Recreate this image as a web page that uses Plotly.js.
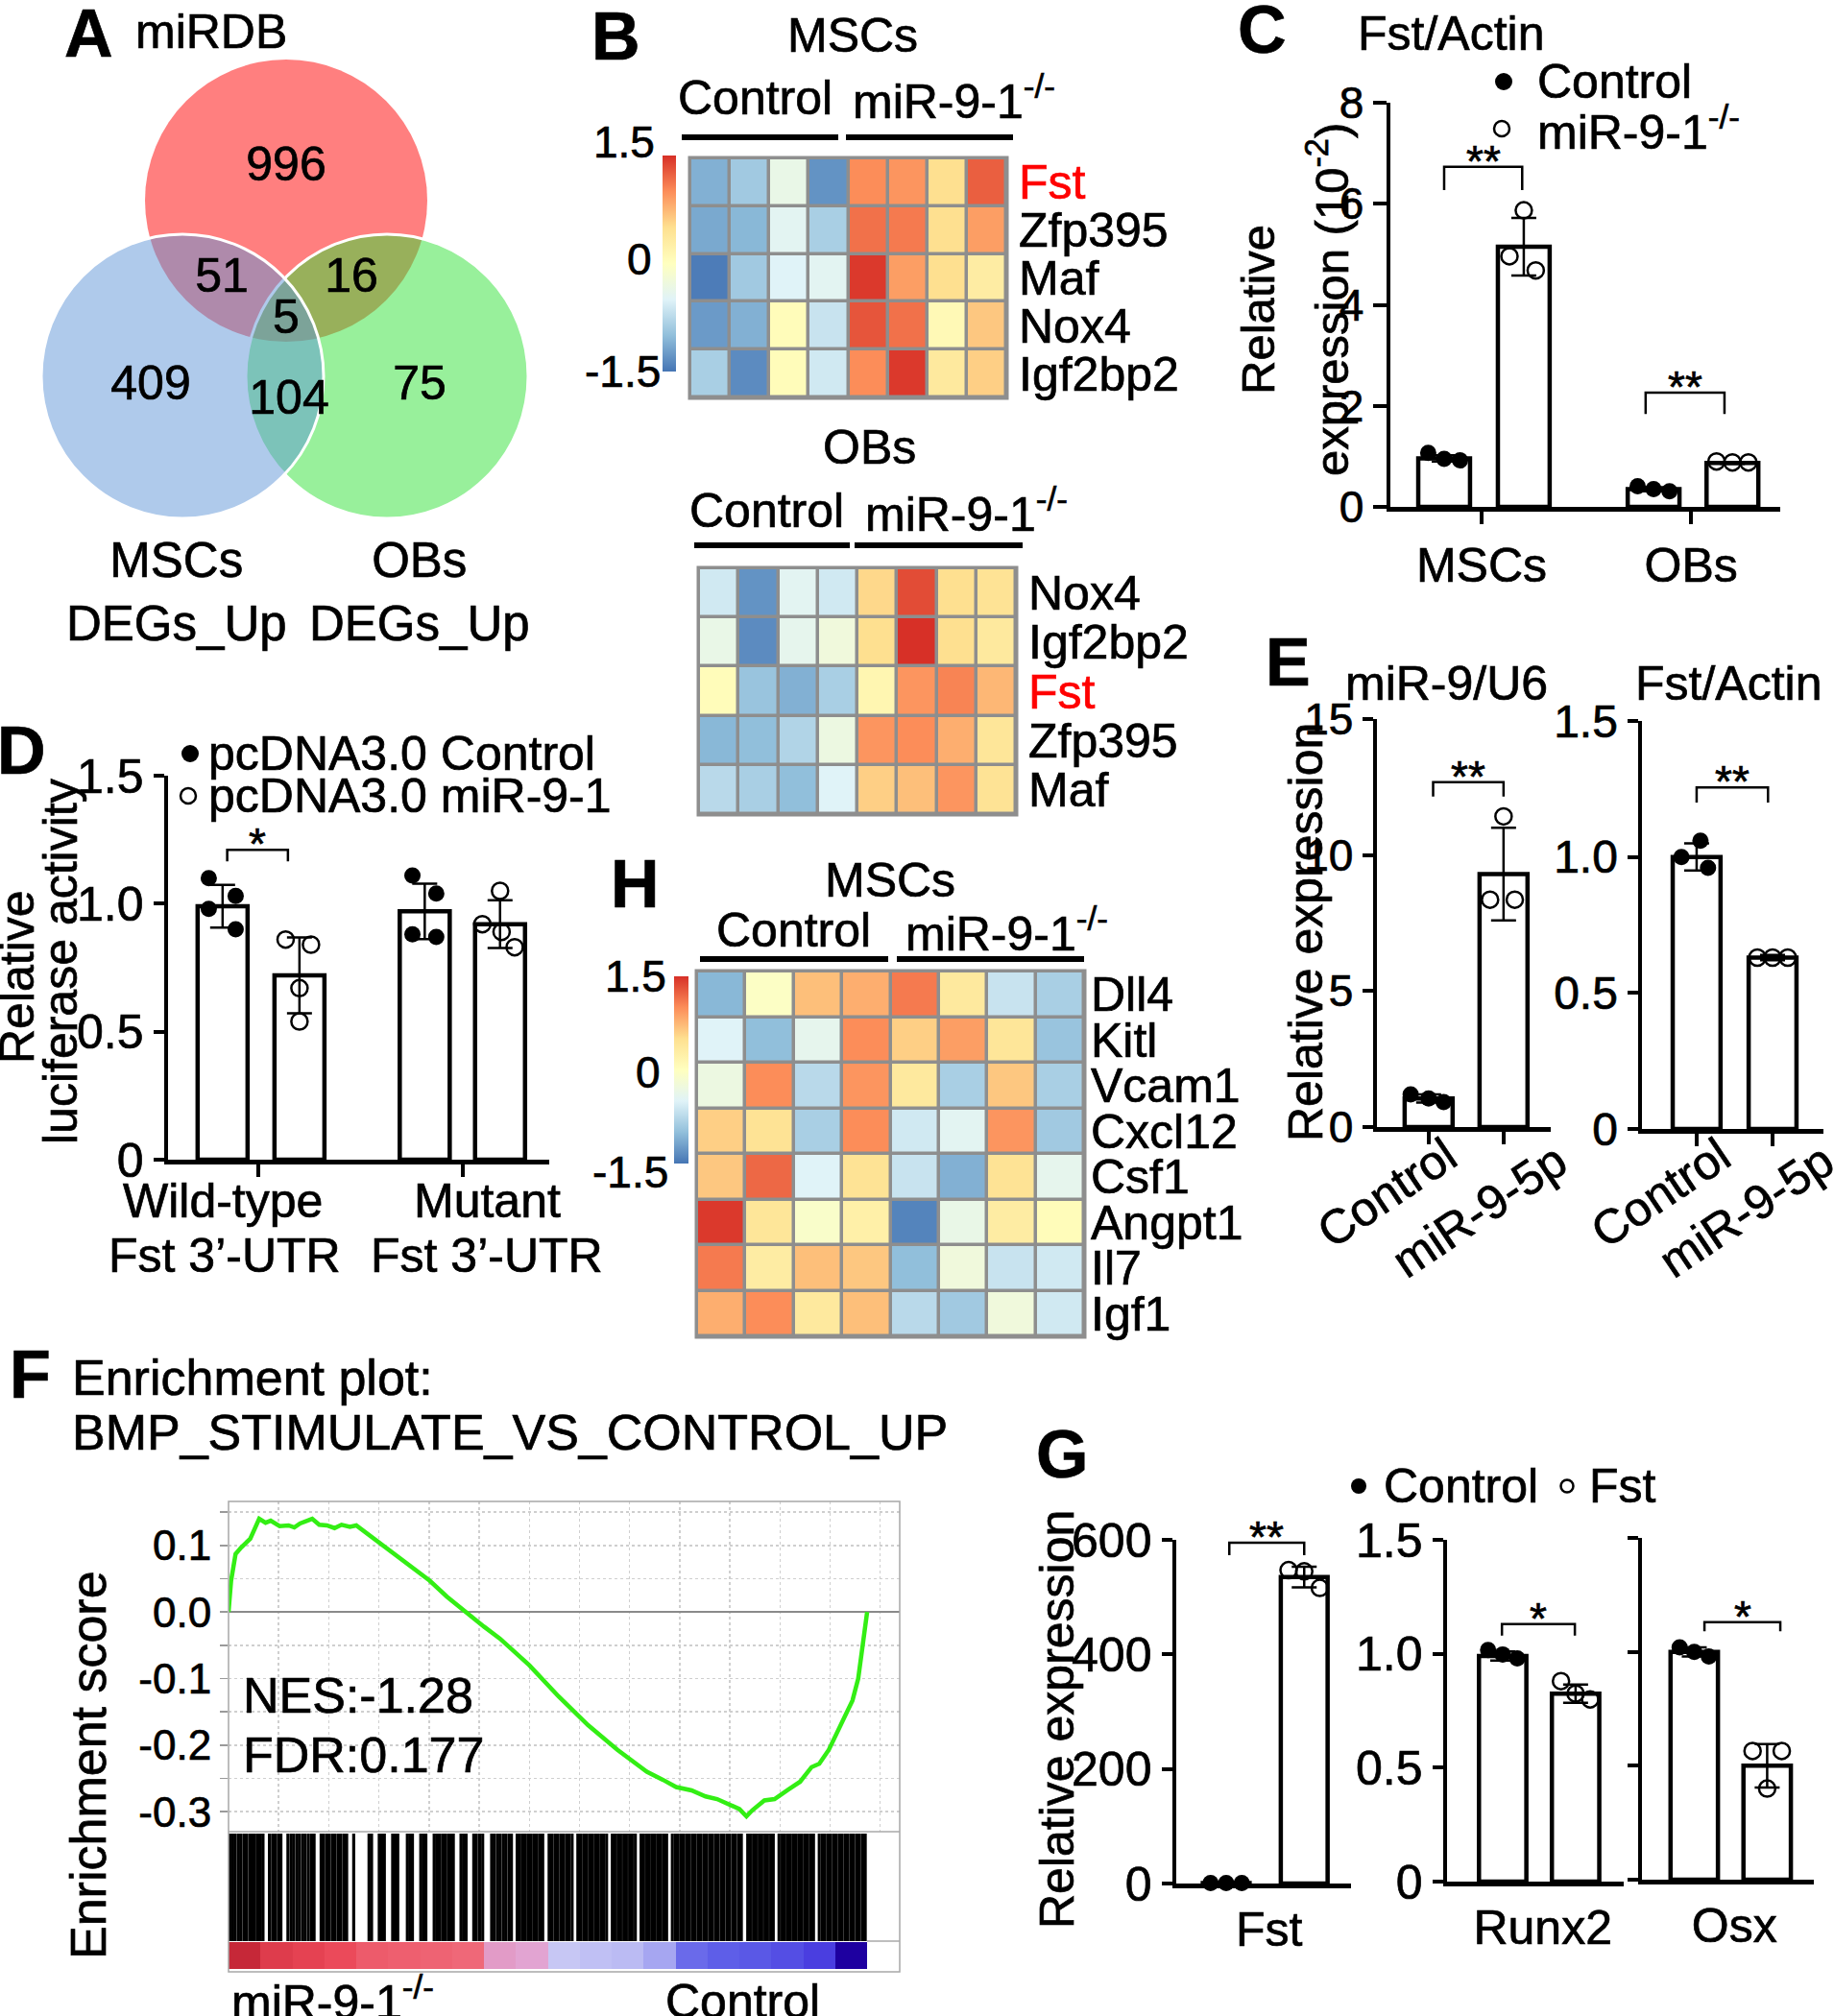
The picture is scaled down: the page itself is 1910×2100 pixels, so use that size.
<!DOCTYPE html>
<html>
<head>
<meta charset="utf-8">
<script src="https://cdn.plot.ly/plotly-3.0.1.min.js"></script>
<style>
  body { margin: 0; background: #fff; }
  #fig { width: 1910px; height: 2100px; }
  /* the source figure's lettering is a touch heavier than plain Liberation Sans */
  #fig .main-svg text { stroke: #000; stroke-width: 0.7px; }
  #fig .main-svg tspan[style*="ff0000"], #fig .main-svg tspan[style*="255, 0, 0"] { stroke: #ff0000; }
</style>
</head>
<body>
<div id="fig"></div>
<script>
// ---------- data ----------
// A: Venn counts (miRDB only, MSC+miRDB, OB+miRDB, all three, MSC only, MSC+OB, OB only)
var vennCounts = [996, 51, 16, 5, 409, 104, 75];

// B / H heatmaps (row z-scores, 4 control + 4 miR-9-1 KO columns)
var heatCols = [0, 1, 2, 3, 4, 5, 6, 7];
var mscGenes = ["Fst", "Zfp395", "Maf", "Nox4", "Igf2bp2"];
var mscZ = [
  [-1.1, -0.9, -0.35, -1.3, 1.0, 0.95, 0.5, 1.25],
  [-1.15, -1.05, -0.45, -0.85, 1.15, 1.1, 0.5, 0.9],
  [-1.45, -0.9, -0.5, -0.45, 1.45, 0.9, 0.5, 0.3],
  [-1.25, -1.1, 0.05, -0.65, 1.3, 1.15, 0.1, 0.65],
  [-0.85, -1.35, 0.05, -0.6, 1.0, 1.45, 0.35, 0.6]
];
var obGenes = ["Nox4", "Igf2bp2", "Fst", "Zfp395", "Maf"];
var obZ = [
  [-0.6, -1.3, -0.45, -0.6, 0.55, 1.35, 0.5, 0.45],
  [-0.35, -1.35, -0.4, -0.25, 0.5, 1.5, 0.5, 0.35],
  [0.05, -0.95, -1.1, -0.85, 0.15, 0.95, 1.05, 0.75],
  [-1.05, -1.0, -0.8, -0.3, 0.95, 1.0, 0.8, 0.4],
  [-0.75, -0.85, -1.0, -0.5, 0.6, 0.7, 0.95, 0.45]
];
var nicheGenes = ["Dll4", "Kitl", "Vcam1", "Cxcl12", "Csf1", "Angpt1", "Il7", "Igf1"];
var nicheZ = [
  [-1.05, -0.05, 0.7, 0.8, 1.1, 0.35, -0.65, -0.85],
  [-0.5, -1.0, -0.4, 1.0, 0.6, 0.9, 0.4, -0.95],
  [-0.3, 1.0, -0.75, 0.95, 0.35, -0.85, 0.65, -0.85],
  [0.6, 0.45, -0.85, 1.0, -0.6, -0.45, 0.95, -0.9],
  [0.65, 1.2, -0.5, 0.45, -0.65, -1.1, 0.45, -0.4],
  [1.45, 0.4, -0.1, 0.25, -1.4, -0.35, 0.3, 0.05],
  [1.1, 0.3, 0.7, 0.65, -1.0, -0.25, -0.65, -0.6],
  [0.8, 1.0, 0.35, 0.7, -0.75, -0.9, -0.25, -0.6]
];

// C: Fst/Actin (x10^-2)
var cCats = ["MSCs", "OBs"];
var cCtrl = [0.96, 0.35];
var cCtrlSd = [0.06, 0.04];
var cKo = [5.15, 0.87];
var cKoSd = [0.57, 0.02];
var cCtrlDots = [[1.07, 0.95, 0.92], [0.41, 0.35, 0.31]];
var cKoDots = [[5.87, 4.96, 4.68], [0.9, 0.88, 0.88]];

// D: luciferase
var dCtrl = [0.99, 0.97];
var dCtrlSd = [0.083, 0.108];
var dMir = [0.72, 0.92];
var dMirSd = [0.148, 0.093];
var dCtrlDots = [[1.1, 1.03, 0.98, 0.9], [1.11, 1.04, 0.88, 0.87]];
var dMirDots = [[0.86, 0.84, 0.67, 0.54], [1.05, 0.92, 0.89, 0.83]];

// E
var eCats = ["Control", "miR-9-5p"];
var eMir = [1.05, 9.3];
var eMirSd = [0.15, 1.7];
var eMirDots = [[1.2, 1.05, 0.92], [11.42, 8.36, 8.36]];
var eFst = [1.0, 0.63];
var eFstSd = [0.05, 0.01];
var eFstDots = [[1.06, 1.0, 0.96], [0.63, 0.63, 0.63]];

// F: GSEA running enrichment score
var esRank = [0, 0.4, 1.1, 2.0, 3.4, 4.8, 5.8, 6.6, 8.0, 9.4, 10.3, 11.2, 13.1, 14.2, 15.4, 16.6, 17.7, 19.0, 20.0,
  23.2, 26.9, 29.0, 31.5, 34.2, 37.4, 40.0, 42.5, 47.1, 51.7, 56.3, 60.9, 63.0, 65.5, 68.0, 70.1, 72.5, 74.7,
  76.5, 78.4, 80.0, 81.1, 82.0, 83.9, 85.5, 87.6, 89.5, 91.3, 92.5, 94.0, 95.9, 97.7, 98.6, 99.4, 100];
var esScore = [0, 0.047, 0.087, 0.097, 0.11, 0.14, 0.134, 0.137, 0.129, 0.13, 0.127, 0.133, 0.14, 0.131, 0.13, 0.126, 0.131, 0.128, 0.13,
  0.107, 0.08, 0.066, 0.047, 0.023, -0.003, -0.022, -0.04, -0.08, -0.127, -0.17, -0.207, -0.222, -0.24, -0.252, -0.263, -0.268, -0.277,
  -0.281, -0.29, -0.296, -0.307, -0.298, -0.283, -0.281, -0.267, -0.255, -0.233, -0.228, -0.207, -0.167, -0.133, -0.1, -0.047, 0];
var hitRanks = [
  0.2, 0.6, 1.0, 1.5, 1.9, 2.4, 2.8, 3.3, 3.7, 4.1, 4.6, 5.0, 5.4,
  6.4, 6.9, 7.3, 7.8, 8.2,
  9.3, 9.8, 10.2, 10.7, 11.1, 11.6, 12.0, 12.5, 13.0, 13.4,
  14.5, 14.9, 15.4, 15.8, 16.3, 16.7, 17.2, 17.6, 18.1, 18.5,
  19.6,
  22.0, 22.4, 23.6, 24.0, 24.4, 25.7, 26.1, 26.5, 28.0, 28.4, 28.8, 30.1, 30.5, 30.9,
  32.2, 32.6, 33.0, 33.5, 33.9, 34.4, 34.8, 35.2, 36.4, 36.8, 37.2, 38.4, 38.8, 39.3, 39.8,
  41.2, 41.6, 42.1, 42.5, 43.0, 43.4, 43.9, 44.3, 45.2, 45.6, 46.1, 46.5, 47.0, 47.4, 47.9, 48.3, 48.8, 49.2,
  50.2, 50.6, 51.1, 51.5, 52.0, 52.4, 52.9, 53.3, 53.8, 54.7, 55.1, 55.6, 56.0, 56.5, 56.9, 57.4, 57.8, 58.3,
  58.7, 59.2, 60.1, 60.5, 61.0, 61.4, 61.9, 62.3, 62.8, 63.2, 63.7, 64.6, 65.0, 65.5, 65.9, 66.4, 66.8, 67.3,
  67.7, 68.2, 68.6, 69.5, 70.0, 70.4, 70.9, 71.3, 71.8, 72.2, 72.7, 73.1, 73.6, 74.0, 74.5, 74.9, 75.4, 75.8,
  76.3, 76.7, 77.2, 77.6, 78.1, 78.5, 79.0, 79.4, 79.9, 80.3, 81.3, 81.7, 82.2, 82.6, 83.1, 83.5, 84.0, 84.4,
  84.9, 85.3, 86.2, 86.7, 87.1, 87.6, 88.0, 88.5, 88.9, 89.4, 89.8, 90.3, 90.7, 91.2, 91.6, 92.5, 93.0, 93.4,
  93.9, 94.3, 94.8, 95.2, 95.7, 96.1, 96.6, 97.0, 97.5, 97.9, 98.4, 98.8, 99.3, 99.7
];
var rankMetric = [0.95, 0.85, 0.82, 0.78, 0.7, 0.68, 0.66, 0.64, 0.35, 0.3,
  -0.15, -0.18, -0.2, -0.3, -0.55, -0.6, -0.62, -0.65, -0.7, -1.0];

// G
var gFst = [1, 535];
var gFstSd = [0, 18];
var gFstDots = [[1, 1, 1], [547, 545, 516]];
var gRunx2 = [0.99, 0.825];
var gRunx2Sd = [0.02, 0.04];
var gRunx2Dots = [[1.016, 0.997, 0.98], [0.88, 0.825, 0.8]];
var gOsx = [1.0, 0.5];
var gOsxSd = [0.02, 0.095];
var gOsxDots = [[1.02, 1.0, 0.98], [0.565, 0.565, 0.4]];

// ---------- drawing ----------
var FONT = "Liberation Sans, Arial, Helvetica, sans-serif";
var W = 1910, H = 2100;
var traces = [], shapes = [], annos = [];
var layout = {
  width: W, height: H,
  margin: { l: 0, r: 0, t: 0, b: 0, pad: 0 },
  paper_bgcolor: "white",
  plot_bgcolor: "rgba(0,0,0,0)",
  showlegend: false,
  font: { family: FONT, size: 50, color: "black" },
  // a pixel canvas over the whole page for decorations
  xaxis: { domain: [0, 1], range: [0, W], visible: false, fixedrange: true },
  yaxis: { domain: [0, 1], range: [H, 0], visible: false, fixedrange: true }
};

function fx(x) { return x / W; }
function fy(y) { return 1 - y / H; }

function label(x, y, s, o) {
  o = o || {};
  annos.push({
    xref: "paper", yref: "paper", x: fx(x), y: fy(y), text: s, showarrow: false,
    xanchor: o.xa || "center", yanchor: o.ya || "middle", textangle: o.rot || 0,
    font: { size: o.size || 50, color: o.color || "black", family: FONT }
  });
}
function letter(x, y, s) { label(x, y, "<b>" + s + "</b>", { size: 70 }); }
function seg(x0, y0, x1, y1, w, c) {
  shapes.push({ type: "line", xref: "x", yref: "y", x0: x0, y0: y0, x1: x1, y1: y1,
    line: { color: c || "black", width: w || 6 } });
}
function dot(x, y, open, size) {
  traces.push({
    type: "scatter", mode: "markers", x: [x], y: [y], xaxis: "x", yaxis: "y", hoverinfo: "skip",
    marker: open ? { size: size, color: "rgba(0,0,0,0)", line: { color: "black", width: 2.5 } }
                 : { size: size, color: "black" }
  });
}

// ----- A: Venn -----
letter(92, 35, "A");
label(220, 33, "miRDB");
shapes.push({ type: "circle", xref: "x", yref: "y", layer: "below", x0: 298 - 147, x1: 298 + 147, y0: 62, y1: 356,
  fillcolor: "rgba(255,0,0,0.5)", line: { width: 0 } });
shapes.push({ type: "circle", xref: "x", yref: "y", layer: "below", x0: 403 - 147, x1: 403 + 147, y0: 244, y1: 540,
  fillcolor: "rgba(50,225,55,0.5)", line: { color: "white", width: 3 } });
shapes.push({ type: "circle", xref: "x", yref: "y", layer: "below", x0: 190 - 147, x1: 190 + 147, y0: 244, y1: 540,
  fillcolor: "rgba(95,150,215,0.5)", line: { color: "white", width: 3 } });
var vennX = [298, 231, 366, 298, 157, 301, 437];
var vennY = [175, 291, 291, 334, 403, 418, 403];
traces.push({ type: "scatter", mode: "text", x: vennX, y: vennY, xaxis: "x", yaxis: "y",
  text: vennCounts.map(String), textfont: { size: 50, family: FONT, color: "black" },
  cliponaxis: false, hoverinfo: "skip" });
label(184, 617, "MSCs<br>DEGs_Up", { size: 51 });
label(437, 616, "OBs<br>DEGs_Up", { size: 51 });

// ----- heatmaps (B, H) -----
var heatScale = [[0, "#4575B4"], [1 / 6, "#91BFDB"], [2 / 6, "#E0F3F8"], [3 / 6, "#FFFFBF"],
  [4 / 6, "#FEE090"], [5 / 6, "#FC8D59"], [1, "#D73027"]];

function heat(n, genes, z, box, standoff, cbar) {
  var tr = {
    type: "heatmap", x: heatCols, y: genes, z: z, xaxis: "x" + n, yaxis: "y" + n,
    colorscale: heatScale, zmin: -1.5, zmax: 1.5, xgap: 3.5, ygap: 3.5, hoverinfo: "skip",
    showscale: !!cbar
  };
  if (cbar) {
    tr.colorbar = { x: fx(cbar[0]), xanchor: "left", y: fy(cbar[1]), yanchor: "top",
      len: (cbar[2] - cbar[1]) / H, lenmode: "fraction", thickness: cbar[3], thicknessmode: "pixels",
      outlinewidth: 0, xpad: 0, ypad: 0, showticklabels: false, ticks: "" };
  }
  traces.push(tr);
  layout["xaxis" + n] = { domain: [fx(box[0]), fx(box[1])], range: [-0.5, 7.5], anchor: "y" + n,
    visible: false, fixedrange: true };
  layout["yaxis" + n] = { domain: [fy(box[3]), fy(box[2])], anchor: "x" + n, type: "category",
    autorange: "reversed", side: "right", ticks: "", showline: false, showgrid: false, zeroline: false,
    tickvals: genes,
    ticktext: genes.map(function (g) { return g === "Fst" ? '<span style="color:#ff0000">Fst</span>' : g; }),
    tickfont: { size: 50 }, ticklabelstandoff: standoff, fixedrange: true };
  var ex = 2.5 / (box[1] - box[0]), ey = 2.5 / (box[3] - box[2]);
  shapes.push({ type: "rect", xref: "x" + n + " domain", yref: "y" + n + " domain", layer: "below",
    x0: -ex, x1: 1 + ex, y0: -ey, y1: 1 + ey, fillcolor: "#8e8e8e", line: { width: 0 } });
}

letter(641, 38, "B");
label(888, 37, "MSCs");
label(786, 102, "Control");
label(886, 102, "miR-9-1<sup>-/-</sup>", { xa: "left" });
seg(710, 143, 873, 143);
seg(881, 143, 1055, 143);
heat(9, mscGenes, mscZ, [719, 1048, 165, 414], 12, [690, 162, 387, 14]);
label(684, 148, "1.5", { xa: "right", size: 46 });
label(666, 270, "0", { size: 46 });
label(690, 387, "-1.5", { xa: "right", size: 46 });

label(905, 466, "OBs");
label(798, 532, "Control");
label(899, 532, "miR-9-1<sup>-/-</sup>", { xa: "left" });
seg(723, 568, 885, 568);
seg(890, 568, 1065, 568);
heat(10, obGenes, obZ, [728, 1058, 592, 848], 12, null);

letter(661, 921, "H");
label(927, 917, "MSCs");
label(826, 969, "Control");
label(941, 969, "miR-9-1<sup>-/-</sup>", { xa: "left" });
seg(729, 999, 925, 999);
seg(934, 999, 1129, 999);
heat(11, nicheGenes, nicheZ, [726, 1129, 1012, 1392], 6, [702, 1017, 1212, 15]);
label(696, 1017, "1.5", { xa: "right", size: 46 });
label(675, 1117, "0", { size: 46 });
label(698, 1221, "-1.5", { xa: "right", size: 46 });

// ----- bar panels -----
function barAxes(n, box, xr, yr, xt, yt) {
  layout["xaxis" + n] = Object.assign({
    domain: [fx(box[0]), fx(box[1])], range: xr, anchor: "y" + n,
    showline: true, linecolor: "black", linewidth: 4.5, showgrid: false, zeroline: false,
    ticks: "outside", ticklen: 13, tickwidth: 4, tickcolor: "black",
    tickfont: { size: 50 }, fixedrange: true
  }, xt);
  layout["yaxis" + n] = Object.assign({
    domain: [fy(box[3]), fy(box[2])], range: yr, anchor: "x" + n,
    showline: true, linecolor: "black", linewidth: 4.5, showgrid: false, zeroline: false,
    ticks: "outside", ticklen: 11, tickwidth: 4, tickcolor: "black",
    tickfont: { size: 48 }, fixedrange: true
  }, yt);
}
function barSet(n, pos, means, sds, width, dots, open, jit) {
  traces.push({
    type: "bar", xaxis: "x" + n, yaxis: "y" + n, x: pos, y: means, width: width, hoverinfo: "skip",
    marker: { color: "rgba(0,0,0,0)", line: { color: "black", width: 4.5 } },
    error_y: { type: "data", array: sds, visible: true, color: "black", thickness: 2.5, width: 13 }
  });
  var fxs = [], fys = [], oxs = [], oys = [];
  dots.forEach(function (grp, i) {
    grp.forEach(function (v, k) {
      var xx = pos[i] + jit[i][k];
      if (open[i]) { oxs.push(xx); oys.push(v); } else { fxs.push(xx); fys.push(v); }
    });
  });
  traces.push({ type: "scatter", mode: "markers", xaxis: "x" + n, yaxis: "y" + n, x: fxs, y: fys,
    cliponaxis: false, hoverinfo: "skip", marker: { size: 17, color: "black" } });
  traces.push({ type: "scatter", mode: "markers", xaxis: "x" + n, yaxis: "y" + n, x: oxs, y: oys,
    cliponaxis: false, hoverinfo: "skip",
    marker: { size: 17, color: "rgba(0,0,0,0)", line: { color: "black", width: 2.5 } } });
}
function bracket(n, x1, x2, y, yEnd, stars) {
  shapes.push({ type: "path", xref: "x" + n, yref: "y" + n,
    path: "M" + x1 + "," + yEnd + " L" + x1 + "," + y + " L" + x2 + "," + y + " L" + x2 + "," + yEnd,
    line: { color: "black", width: 2.5 } });
  annos.push({ xref: "x" + n, yref: "y" + n, x: (x1 + x2) / 2, y: y, text: stars, showarrow: false,
    yanchor: "middle", yshift: 6, font: { size: 46, family: FONT } });
}
function interleave(a, b) { var r = []; a.forEach(function (v, i) { r.push(v, b[i]); }); return r; }

var j3 = [-0.2, 0, 0.2];
var jTop = [0, -0.18, 0.15];

// C
letter(1314, 31, "C");
label(1412, 35, "Fst/Actin", { xa: "left" });
dot(1566, 85, false, 18);
label(1599, 85, "Control", { xa: "left" });
dot(1564, 134, true, 16);
label(1599, 134, "miR-9-1<sup>-/-</sup>", { xa: "left" });
label(1310, 323, "Relative", { rot: -90, size: 49 });
label(1383, 312, "expression (10<sup>-2</sup>)", { rot: -90, size: 49 });
barAxes(2, [1448, 1854, 107, 528], [0.325, 5.22], [0, 8],
  { tickvals: [1.47, 4.1], ticktext: cCats },
  { tickvals: [0, 2, 4, 6, 8], ticktext: ["0", "2", "4", "6", "8"], tickfont: { size: 46 }, ticklen: 14 });
barSet(2, [1, 2, 3.63, 4.62], interleave(cCtrl, cKo), interleave(cCtrlSd, cKoSd), 0.65,
  interleave(cCtrlDots, cKoDots), [false, true, false, true], [j3, jTop, j3, j3]);
bracket(2, 1, 1.98, 6.73, 6.27, "**");
bracket(2, 3.53, 4.52, 2.26, 1.84, "**");

// D
letter(22, 782, "D");
dot(198, 785, false, 18);
label(215, 785, "pcDNA3.0 Control", { xa: "left" });
dot(196, 829, true, 16);
label(215, 829, "pcDNA3.0 miR-9-1", { xa: "left" });
label(18, 1018, "Relative", { rot: -90 });
label(63, 1002, "luciferase activity", { rot: -90 });
barAxes(3, [175, 572, 808, 1208], [0.29, 5.25], [0, 1.5],
  { tickvals: [1.46, 4.13], showticklabels: false },
  { tickvals: [0, 0.5, 1, 1.5], ticktext: ["0", "0.5", "1.0", "1.5"], tickfont: { size: 50 } });
barSet(3, [1, 2, 3.63, 4.61], interleave(dCtrl, dMir), interleave(dCtrlSd, dMirSd), 0.65,
  interleave(dCtrlDots, dMirDots), [false, true, false, true],
  [[-0.18, 0.17, -0.18, 0.17], [-0.18, 0.15, 0, 0], [-0.16, 0.15, -0.16, 0.15], [0, -0.23, 0.02, 0.19]]);
bracket(3, 1.06, 1.85, 1.21, 1.165, "*");
label(232, 1251, "Wild-type");
label(507, 1251, "Mutant");
label(234, 1308, "Fst 3’-UTR");
label(507, 1308, "Fst 3’-UTR");

// E
letter(1341, 690, "E");
label(1399, 712, "miR-9/U6", { xa: "left" });
label(1701, 712, "Fst/Actin", { xa: "left" });
label(1360, 971, "Relative expression", { rot: -90 });
barAxes(4, [1434, 1615, 749, 1174], [0.31, 2.63], [0, 15],
  { tickvals: [1, 2], showticklabels: false },
  { tickvals: [0, 5, 10, 15], ticktext: ["0", "5", "10", "15"], tickfont: { size: 46 } });
barSet(4, [1, 2], eMir, eMirSd, 0.64, eMirDots, [false, true], [[-0.24, 0, 0.2], jTop]);
bracket(4, 1.06, 2.0, 12.68, 12.15, "**");
barAxes(5, [1710, 1899, 751, 1176], [0.28, 2.67], [0, 1.5],
  { tickvals: [1, 2], showticklabels: false },
  { tickvals: [0, 0.5, 1, 1.5], ticktext: ["0", "0.5", "1.0", "1.5"], tickfont: { size: 48 } });
barSet(5, [1, 2], eFst, eFstSd, 0.63, eFstDots, [false, true], [[0.05, -0.2, 0.15], j3]);
bracket(5, 1.0, 1.94, 1.256, 1.2, "**");
// slanted category labels under both E plots
var eLabX = [[1444, 1541], [1729, 1819]];
var eLabY = [1243, 1261];
eLabX.forEach(function (xs) {
  eCats.forEach(function (c, i) { label(xs[i], eLabY[i], c, { rot: -34 }); });
});

// G
letter(1106, 1515, "G");
dot(1415, 1548, false, 16);
label(1439, 1548, "Control", { xa: "left" });
dot(1632, 1548, true, 13);
label(1653, 1548, "Fst", { xa: "left" });
label(1101, 1791, "Relative expression", { rot: -90 });
barAxes(6, [1225, 1407, 1604, 1962], [0.36, 2.6], [0, 600],
  { tickvals: [1.55], ticktext: ["Fst"], ticks: "" },
  { tickvals: [0, 200, 400, 600], ticktext: ["0", "200", "400", "600"], tickfont: { size: 50 } });
barSet(6, [1, 2], gFst, gFstSd, 0.6, gFstDots, [false, true], [j3, j3]);
bracket(6, 1.04, 2.0, 595, 573, "**");
barAxes(7, [1507, 1691, 1604, 1960], [0.237, 2.66], [0, 1.5],
  { tickvals: [1.55], ticktext: ["Runx2"], ticks: "" },
  { tickvals: [0, 0.5, 1, 1.5], ticktext: ["0", "0.5", "1.0", "1.5"], tickfont: { size: 50 } });
barSet(7, [1, 2], gRunx2, gRunx2Sd, 0.65, gRunx2Dots, [false, true], [j3, j3]);
bracket(7, 0.99, 1.99, 1.13, 1.08, "*");
barAxes(8, [1710, 1889, 1602, 1958], [0.283, 2.64], [0, 1.5],
  { tickvals: [1.55], ticktext: ["Osx"], ticks: "" },
  { tickvals: [0, 0.5, 1, 1.5], showticklabels: false });
barSet(8, [1, 2], gOsx, gOsxSd, 0.65, gOsxDots, [false, true], [j3, [-0.2, 0.2, 0]]);
bracket(8, 1.14, 2.18, 1.13, 1.09, "*");

// ----- F: GSEA -----
letter(31, 1432, "F");
label(73, 1435, "Enrichment plot:", { xa: "left", size: 52 });
label(73, 1492, "BMP_STIMULATE_VS_CONTROL_UP", { xa: "left", size: 52 });
label(92, 1839, "Enrichment score", { rot: -90, size: 52 });

var fxr = [0, 105.1];
var grid = "#cfcfcf";
layout.xaxis12 = { domain: [fx(238), fx(937)], range: fxr, anchor: "y12", showticklabels: false, ticks: "",
  showgrid: true, tick0: 0, dtick: 7.85, gridcolor: grid, griddash: "dot", gridwidth: 1.5,
  zeroline: false, showline: false, fixedrange: true };
layout.yaxis12 = { domain: [fy(1908), fy(1564)], range: [-0.33, 0.166], anchor: "x12",
  tickvals: [0.1, 0, -0.1, -0.2, -0.3],
  ticktext: ["0.1", "0.0", "-0.1", "-0.2", "-0.3"],
  ticks: "outside", ticklen: 8, tickcolor: "#9a9a9a", tickwidth: 1.5, tickfont: { size: 44 },
  showgrid: true, gridcolor: grid, griddash: "dot", gridwidth: 1.5,
  minor: { tickmode: "array", tickvals: [0.15, 0.05, -0.05, -0.15, -0.25], showgrid: true,
    gridcolor: grid, griddash: "dot", gridwidth: 1.5, ticks: "outside", ticklen: 8, tickcolor: "#9a9a9a" },
  zeroline: true, zerolinecolor: "#8a8a8a", zerolinewidth: 1.5, showline: false, fixedrange: true };
traces.push({ type: "scatter", mode: "lines", x: esRank, y: esScore, xaxis: "x12", yaxis: "y12",
  line: { color: "#33ee14", width: 4.5 }, hoverinfo: "skip" });

var hx = [], hy = [];
hitRanks.forEach(function (h) { hx.push(h, h, null); hy.push(0, 1, null); });
layout.xaxis13 = { domain: [fx(238), fx(937)], range: fxr, anchor: "y13", visible: false, fixedrange: true };
layout.yaxis13 = { domain: [fy(2022), fy(1910)], range: [0, 1], anchor: "x13", visible: false, fixedrange: true };
traces.push({ type: "scatter", mode: "lines", x: hx, y: hy, xaxis: "x13", yaxis: "y13",
  line: { color: "black", width: 3.2 }, connectgaps: false, hoverinfo: "skip" });

layout.xaxis14 = { domain: [fx(238), fx(937)], range: fxr, anchor: "y14", visible: false, fixedrange: true };
layout.yaxis14 = { domain: [fy(2051), fy(2023)], range: [-0.5, 0.5], anchor: "x14", visible: false, fixedrange: true };
traces.push({ type: "heatmap", z: [rankMetric], x0: 2.5, dx: 5, y: [0], xaxis: "x14", yaxis: "y14",
  zmin: -1, zmax: 1, showscale: false, hoverinfo: "skip",
  colorscale: [[0, "#1e00a0"], [0.15, "#4a3ee0"], [0.2, "#5e5ee8"], [0.3, "#9090ee"], [0.42, "#c4c4f4"],
    [0.5, "#f0eefa"], [0.62, "#e6b0d8"], [0.66, "#e0a0d0"], [0.8, "#f07080"], [0.9, "#ea4656"],
    [0.98, "#c42636"], [1, "#b01c2c"]] });

shapes.push({ type: "rect", xref: "x", yref: "y", x0: 238, x1: 937, y0: 1564, y1: 2054,
  line: { color: "#a8a8a8", width: 1.5 } });
seg(238, 1908, 937, 1908, 1.5, "#a8a8a8");
seg(903, 2022, 937, 2022, 1.5, "#a8a8a8");
label(251, 1766, "NES:-1.28", { xa: "left", size: 52 });
label(251, 1828, "FDR:0.177", { xa: "left", size: 52 });
label(239, 2082, "miR-9-1<sup>-/-</sup>", { xa: "left" });
label(773, 2085, "Control");

layout.shapes = shapes;
layout.annotations = annos;
Plotly.newPlot("fig", traces, layout, { displayModeBar: false, staticPlot: true });
</script>
</body>
</html>
